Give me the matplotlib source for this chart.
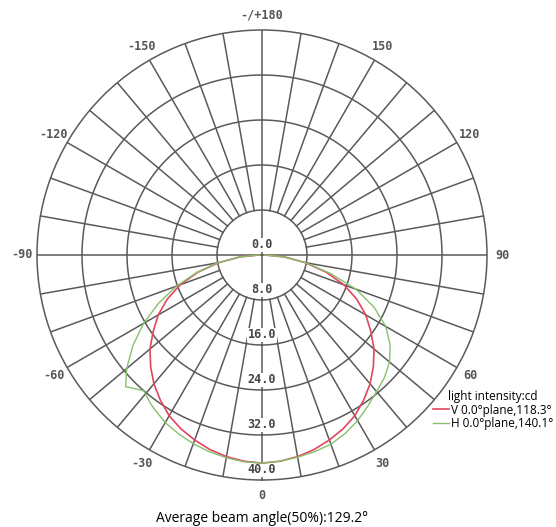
import numpy as np
import matplotlib
matplotlib.use('Agg')
import matplotlib.pyplot as plt

# luminous intensity (cd) against angle (deg)
v_angles = [-90, -85, -80, -75, -70, -65, -60, -55, -50, -45, -40, -35, -30, -25, -20, -15, -10, -5,
            0, 5, 10, 15, 20, 25, 30, 35, 40, 45, 50, 55, 60, 65, 70, 75, 80, 85, 90]
v_cd = [0.5, 4.0, 7.8, 11.8, 15.5, 18.6, 21.3, 23.6, 26.0, 28.0, 29.9, 31.5, 33.0, 34.1, 35.0, 35.8, 36.4, 36.8,
        37.0, 36.8, 36.4, 35.8, 35.0, 34.1, 33.0, 31.5, 29.9, 28.0, 26.0, 23.6, 21.3, 18.6, 15.5, 11.8, 7.8, 4.0, 0.5]

h_angles = [-90, -85, -80, -75, -70, -65, -60, -55, -50, -46, -45, -41, -37, -35, -30, -25, -20, -15, -10, -5,
            0, 5, 10, 15, 20, 25, 30, 35, 40, 45, 50, 55, 60, 65, 70, 75, 80, 85, 90]
h_cd = [0.5, 4.0, 8.0, 12.0, 16.2, 20.3, 24.3, 28.0, 31.4, 33.7, 33.3, 32.0, 33.0, 33.4, 34.4, 35.1, 35.7, 36.2, 36.6, 36.9,
        37.0, 36.8, 36.5, 36.2, 35.8, 35.0, 34.0, 32.8, 31.7, 30.8, 29.6, 27.8, 25.4, 22.0, 17.8, 12.5, 7.8, 4.2, 0.5]

rings = [8, 16, 24, 32, 40]
angle_ticks = [0, 30, 60, 90, 120, 150, 180, -150, -120, -90, -60, -30]
angle_labels = ['0', '30', '60', '90', '120', '150', '-/+180', '-150', '-120', '-90', '-60', '-30']

gc = '#5a5a5a'
mono = 'DejaVu Sans Mono'

fig = plt.figure(figsize=(5.56, 5.27), dpi=100)
ax = fig.add_axes([37/556, 47/527, 450/556, 450/527], projection='polar')
ax.set_theta_zero_location('S')
ax.set_theta_direction(1)
ax.set_ylim(0, 40)
ax.set_xticks([])
ax.set_yticks([])
ax.grid(False)
ax.spines['polar'].set_color(gc)
ax.spines['polar'].set_linewidth(1.1)

# grid: rings and spokes (spokes start at the first ring, except the axes)
circ = np.linspace(0, 2*np.pi, 721)
for r in rings[:-1]:
    ax.plot(circ, np.full_like(circ, r), color=gc, lw=1.1, zorder=1)
for a in range(0, 360, 10):
    r0 = 0 if a % 90 == 0 else 8
    ax.plot([np.radians(a)]*2, [r0, 40], color=gc, lw=1.1, zorder=1)

for a, lab in zip(angle_ticks, angle_labels):
    ax.text(np.radians(a), 42.7, lab, ha='center', va='center', fontsize=8.5,
            family=mono, weight='bold', color='#555555', clip_on=False)

box = dict(facecolor='white', edgecolor='none', pad=0.3)
ax.text(np.pi, 1.8, '0.0', ha='center', va='center', fontsize=8.5, family=mono,
        weight='bold', color='#444444', bbox=box, zorder=2)
for r in rings:
    ax.text(0, r - 1.8, f'{r:.1f}', ha='center', va='center', fontsize=8.5, family=mono,
            weight='bold', color='#444444', bbox=box, zorder=2)

ax.plot(np.radians(v_angles), v_cd, color='#e2455c', lw=1.2, zorder=3,
        label='V 0.0°plane,118.3°')
ax.plot(np.radians(h_angles), h_cd, color='#86c06e', lw=1.0, zorder=3,
        label='H 0.0°plane,140.1°')

leg = ax.legend(loc='upper right', bbox_to_anchor=(0.995, 0.26), bbox_transform=fig.transFigure,
                frameon=False, title='light intensity:cd',
                handlelength=1.4, handletextpad=0.15, labelspacing=0.05, borderpad=0, borderaxespad=0,
                prop={'family': 'Open Sans', 'size': 8.5})
leg.get_title().set_family('Open Sans')
leg.get_title().set_fontsize(8.5)

fig.text(262/556, 1 - 518/527, 'Average beam angle(50%):129.2°', ha='center', va='center',
         fontsize=10, family='Open Sans')

fig.savefig('out.png', dpi=100)
